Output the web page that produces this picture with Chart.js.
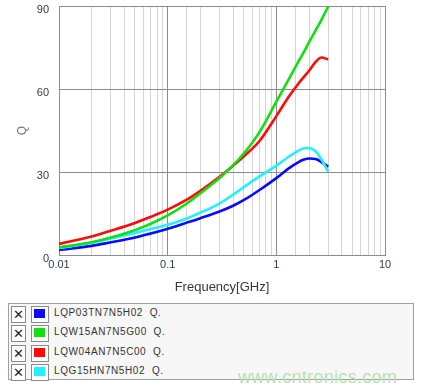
<!DOCTYPE html>
<html>
<head>
<meta charset="UTF-8">
<title>Q vs Frequency</title>
<script src="https://cdn.jsdelivr.net/npm/chart.js"></script>
<style>
    body {
        margin: 0;
        background: #fff;
        font-family: "Liberation Sans", Arial, sans-serif;
    }
    #wrap {
        position: relative;
        width: 422px;
        height: 391px;
    }
    .legend {
        position: absolute;
        left: 8px;
        top: 303px;
        width: 406px;
        height: 77px;
        border: 1px solid #a0a0a0;
        background: #f7f7f7;
        box-sizing: border-box;
    }
    .row {
        position: absolute;
        left: 2px;
        height: 17px;
    }
    .chk {
        position: absolute;
        left: 0;
        top: 0;
        width: 13px;
        height: 15px;
        border: 1px solid #8a8a8a;
        background: #fff;
        font-size: 13px;
        line-height: 15px;
        text-align: center;
        color: #222;
    }
    .sw {
        position: absolute;
        left: 20px;
        top: 0;
        width: 16px;
        height: 15px;
        border: 1px solid #8a8a8a;
        background: #fff;
    }
    .sw span {
        position: absolute;
        left: 2px;
        top: 2px;
        width: 11px;
        height: 9px;
    }
    .lbl {
        position: absolute;
        left: 43px;
        top: 1px;
        font-size: 10px;
        letter-spacing: 0.6px;
        color: #333;
        white-space: pre;
    }
    .mark {
        position: absolute;
        left: 238px;
        top: 367px;
        font-size: 18px;
        color: #b9e2b4;
        letter-spacing: 0.3px;
    }
</style>
</head>
<body>
<div id="wrap">
    <canvas id="chart" width="422" height="295"></canvas>
    <div class="legend" id="legend"></div>
    <div class="mark">www.cntronics.com</div>
</div>
<script>
// frequency points [GHz]
const freqs = [0.01, 0.02, 0.03, 0.05, 0.07, 0.1, 0.15, 0.2, 0.3, 0.4, 0.5, 0.7, 1, 1.3, 1.6, 1.8, 2, 2.3, 2.6, 3];

const names = ['LQP03TN7N5H02  Q.', 'LQW15AN7N5G00  Q.', 'LQW04AN7N5C00  Q.', 'LQG15HN7N5H02  Q.'];
const colors = ['#0a0aff', '#10e010', '#ff0a0a', '#20f0ff'];

const qLQP03 = [1.8, 3.3, 4.6, 6.3, 7.8, 9.5, 11.7, 13.3, 15.7, 17.8, 19.8, 23.5, 27.8, 31.3, 33.6, 34.5, 34.9, 34.7, 33.6, 31.9];
const qLQW15 = [2.8, 4.6, 6.3, 9.0, 11.3, 14.3, 18.6, 22.3, 27.8, 32.5, 36.6, 44.4, 55.4, 63.5, 70.0, 73.5, 76.9, 81.2, 85.0, 89.8];
const qLQW04 = [4.0, 6.7, 8.8, 11.6, 13.8, 16.4, 20.0, 23.2, 28.3, 32.3, 35.6, 41.2, 50.2, 57.2, 62.0, 64.5, 66.6, 69.8, 71.4, 70.7];
const qLQG15 = [2.5, 4.4, 6.0, 8.0, 9.4, 10.9, 13.2, 15.3, 18.6, 21.8, 24.5, 28.4, 32.3, 35.5, 37.7, 38.6, 38.7, 37.5, 34.5, 30.1];

const yTicks = [0, 30, 60, 90];

const series = [qLQP03, qLQW15, qLQW04, qLQG15];

function isDecade(v) {
    const l = Math.log10(v);
    return Math.abs(l - Math.round(l)) < 1e-6;
}

// draw order: green and red behind, cyan and blue in front
const order = [1, 2, 3, 0];
const datasets = order.map(i => ({
    label: names[i],
    data: freqs.map((f, k) => ({ x: f, y: series[i][k] })),
    borderColor: colors[i],
    borderWidth: 2.6,
    pointRadius: 0,
    cubicInterpolationMode: 'monotone',
    fill: false
}));

new Chart(document.getElementById('chart'), {
    type: 'line',
    data: { datasets: datasets },
    options: {
        responsive: false,
        animation: false,
        layout: { padding: { top: 6, right: 37, left: 0, bottom: 0 } },
        plugins: {
            legend: { display: false },
            tooltip: { enabled: false }
        },
        scales: {
            x: {
                type: 'logarithmic',
                min: 0.01,
                max: 10,
                afterFit: s => { s.height = 40; },
                border: { color: '#8c8c8c' },
                grid: {
                    color: c => (c.tick && isDecade(c.tick.value)) ? '#8c8c8c' : '#d4d4d4',
                    lineWidth: 1,
                    drawTicks: false
                },
                ticks: {
                    autoSkip: false,
                    maxRotation: 0,
                    padding: 3,
                    color: '#2c3a48',
                    font: { family: 'Liberation Sans', size: 11 },
                    callback: v => isDecade(v) ? String(Number(v.toPrecision(3))) : ''
                },
                title: {
                    display: true,
                    text: 'Frequency[GHz]',
                    color: '#2c3a48',
                    font: { family: 'Liberation Sans', size: 13 },
                    padding: { top: 2, bottom: 0 }
                }
            },
            y: {
                min: 0,
                max: 90,
                afterFit: s => { s.width = 59; s.paddingTop = 0; s.paddingBottom = 0; },
                afterBuildTicks: s => { s.ticks = yTicks.map(v => ({ value: v })); },
                border: { color: '#8c8c8c' },
                grid: { color: '#8c8c8c', drawTicks: false },
                ticks: {
                    padding: 10,
                    labelOffset: 4,
                    color: '#2c3a48',
                    font: { family: 'Liberation Sans', size: 11 }
                },
                title: {
                    display: true,
                    text: 'Q',
                    color: '#6a7a88',
                    font: { family: 'Liberation Sans', size: 12 },
                    padding: { top: 15, bottom: 0 }
                }
            }
        }
    }
});

// legend rows
const legend = document.getElementById('legend');
names.forEach((n, i) => {
    const row = document.createElement('div');
    row.className = 'row';
    row.style.top = (2 + i * 19.3) + 'px';
    row.innerHTML = '<div class="chk">✕</div><div class="sw"><span style="background:' + colors[i] + '"></span></div><div class="lbl">' + n + '</div>';
    legend.appendChild(row);
});
</script>
</body>
</html>
